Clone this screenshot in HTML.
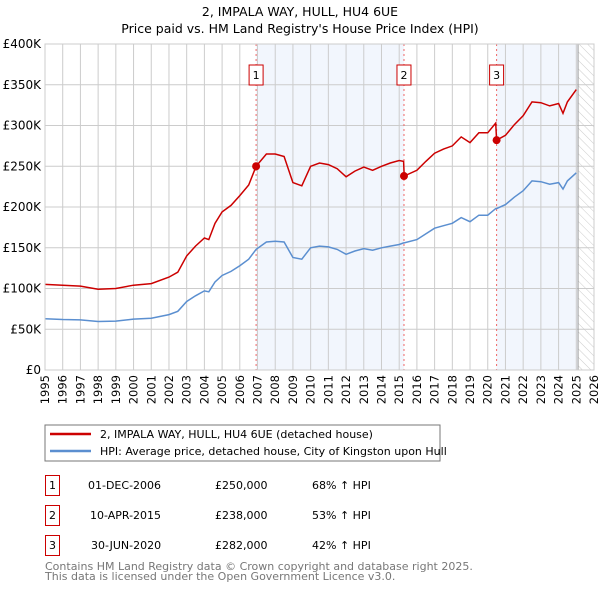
<!DOCTYPE html>
<html><head><meta charset="utf-8"><style>
body{margin:0;background:#fff;font-family:"Liberation Sans","DejaVu Sans",sans-serif;}
svg text{font-family:"DejaVu Sans","Liberation Sans",sans-serif;}
</style></head><body>
<svg id="c" width="600" height="590" xmlns="http://www.w3.org/2000/svg">
<defs><pattern id="hatch" width="6" height="6" patternUnits="userSpaceOnUse" patternTransform="rotate(-45)"><line x1="0" y1="0" x2="0" y2="6" stroke="#ccc" stroke-width="1"/></pattern></defs>
<text x="300" y="16" text-anchor="middle" font-size="12.5">2, IMPALA WAY, HULL, HU4 6UE</text>
<text x="300" y="33" text-anchor="middle" font-size="12.5">Price paid vs. HM Land Registry's House Price Index (HPI)</text>
<g id="plot"></g>
<rect x="45" y="425" width="395" height="36" fill="#fff" stroke="#777"/>
<line x1="50" y1="434" x2="91" y2="434" stroke="#cc0000" stroke-width="2.5"/>
<text x="100" y="438" font-size="11">2, IMPALA WAY, HULL, HU4 6UE (detached house)</text>
<line x1="50" y1="451" x2="91" y2="451" stroke="#5b8fd0" stroke-width="2.5"/>
<text x="100" y="455" font-size="11">HPI: Average price, detached house, City of Kingston upon Hull</text>
<g font-size="11">
<rect x="45.5" y="475.5" width="14" height="20" fill="#fff" stroke="#cc0000"/><text x="52.5" y="489" text-anchor="middle">1</text>
<text x="88" y="489">01-DEC-2006</text><text x="215" y="489">£250,000</text><text x="312" y="489">68% ↑ HPI</text>
<rect x="45.5" y="505.5" width="14" height="20" fill="#fff" stroke="#cc0000"/><text x="52.5" y="519" text-anchor="middle">2</text>
<text x="90" y="519">10-APR-2015</text><text x="215" y="519">£238,000</text><text x="312" y="519">53% ↑ HPI</text>
<rect x="45.5" y="535.5" width="14" height="20" fill="#fff" stroke="#cc0000"/><text x="52.5" y="549" text-anchor="middle">3</text>
<text x="91" y="549">30-JUN-2020</text><text x="215" y="549">£282,000</text><text x="312" y="549">42% ↑ HPI</text>
</g>
<text x="45" y="570" font-size="11" fill="#777">Contains HM Land Registry data © Crown copyright and database right 2025.</text>
<text x="45" y="580" font-size="11" fill="#777">This data is licensed under the Open Government Licence v3.0.</text>
</svg>
<script>
const dates=[1995,1996,1997,1998,1999,2000,2001,2002,2002.5,2003,2003.5,2004,2004.25,2004.6,2005,2005.5,2006,2006.5,2006.92,2007.5,2008,2008.5,2009,2009.5,2010,2010.5,2011,2011.5,2012,2012.5,2013,2013.5,2014,2014.5,2015,2015.25,2015.28,2016,2016.5,2017,2017.5,2018,2018.5,2019,2019.5,2020,2020.45,2020.5,2021,2021.5,2022,2022.5,2023,2023.5,2024,2024.25,2024.5,2025];
const hpiValues=[63,62,61.5,59.5,60,62.5,63.5,68,72,84,91,97,96,108,116,121,128,136,148,157,158,157,138,136,150,152,151,148,142,146,149,147,150,152,154,156,156,160,167,174,177,180,187,182,190,190,198,198,203,212,220,232,231,228,230,222,232,242];
const priceValues=[105,104,103,99,100,104,106,114,120,140,152,162,160,180,194,202,214,227,250,265,265,262,230,226,250,254,252,247,237,244,249,245,250,254,257,256,238,245,256,266,271,275,286,279,291,291,303,282,288,301,312,329,328,324,327,315,329,344];
const yTicks=[0,50,100,150,200,250,300,350,400];
const yLabels=["£0","£50K","£100K","£150K","£200K","£250K","£300K","£350K","£400K"];
const years=[1995,1996,1997,1998,1999,2000,2001,2002,2003,2004,2005,2006,2007,2008,2009,2010,2011,2012,2013,2014,2015,2016,2017,2018,2019,2020,2021,2022,2023,2024,2025,2026];
const saleDates=[2006.92,2015.27,2020.5];
const salePrices=[250,238,282];
const saleLabels=["1","2","3"];
const X0=45,X1=594,Y0=370,Y1=44;
const xs=d=>X0+(d-1995)/(2026-1995)*(X1-X0);
const ys=v=>Y0-v/400*(Y0-Y1);
const NS="http://www.w3.org/2000/svg";
const g=document.getElementById('plot');
function mk(t,a){const e=document.createElementNS(NS,t);for(const k in a)e.setAttribute(k,a[k]);g.appendChild(e);return e;}
let e;
e=mk('rect',{x:xs(saleDates[0]),y:Y1,width:xs(saleDates[1])-xs(saleDates[0]),height:Y0-Y1,fill:'#eef3fc',opacity:0.75});


e=mk('rect',{x:xs(saleDates[2]),y:Y1,width:xs(2025.1)-xs(saleDates[2]),height:Y0-Y1,fill:'#eef3fc',opacity:0.75});


e=mk('rect',{x:xs(2025.1),y:Y1,width:X1-xs(2025.1),height:Y0-Y1,fill:'url(#hatch)'});


yTicks.forEach((v,i)=>{
 e=mk('line',{x1:X0,x2:X1,y1:ys(v),y2:ys(v),stroke:'#ccc','stroke-width':1});
 
 
 e=mk('text',{x:X0-4,y:ys(v)+4,'text-anchor':'end','font-size':12});
 e.textContent=yLabels[i];
 
 
});
years.forEach(y=>{
 e=mk('line',{x1:xs(y),x2:xs(y),y1:Y1,y2:Y0,stroke:'#ccc','stroke-width':1});
 
 
 e=mk('text',{transform:`translate(${xs(y)+4},${Y0+5}) rotate(-90)`,'text-anchor':'end','font-size':11.5});
 e.textContent=y;
 
 
});
e=mk('line',{x1:xs(2025.1),x2:xs(2025.1),y1:Y1,y2:Y0,stroke:'#999','stroke-width':1});


saleDates.forEach((d,i)=>{
 e=mk('line',{x1:xs(d),x2:xs(d),y1:Y1,y2:Y0,stroke:'#e66','stroke-width':1,'stroke-dasharray':'2,3'});
 
 
 e=mk('rect',{x:xs(d)-7,y:65,width:14,height:20,fill:'#fff',stroke:'#cc0000'});
 
 
 e=mk('text',{x:xs(d),y:79,'text-anchor':'middle','font-size':11});
 e.textContent=saleLabels[i];
 
 
});
const path=vals=>dates.map((d,i)=>(i?'L':'M')+xs(d).toFixed(1)+','+ys(vals[i]).toFixed(1)).join('');
e=mk('path',{d:path(hpiValues),fill:'none',stroke:'#5b8fd0','stroke-width':1.5});


e=mk('path',{d:path(priceValues),fill:'none',stroke:'#cc0000','stroke-width':1.5});


saleDates.forEach((d,i)=>{
 e=mk('circle',{cx:xs(d),cy:ys(salePrices[i]),r:4,fill:'#cc0000'});
 
 
});
e=mk('rect',{x:X0,y:Y1,width:X1-X0,height:Y0-Y1,fill:'none',stroke:'#ccc'});


</script>
</body></html>
